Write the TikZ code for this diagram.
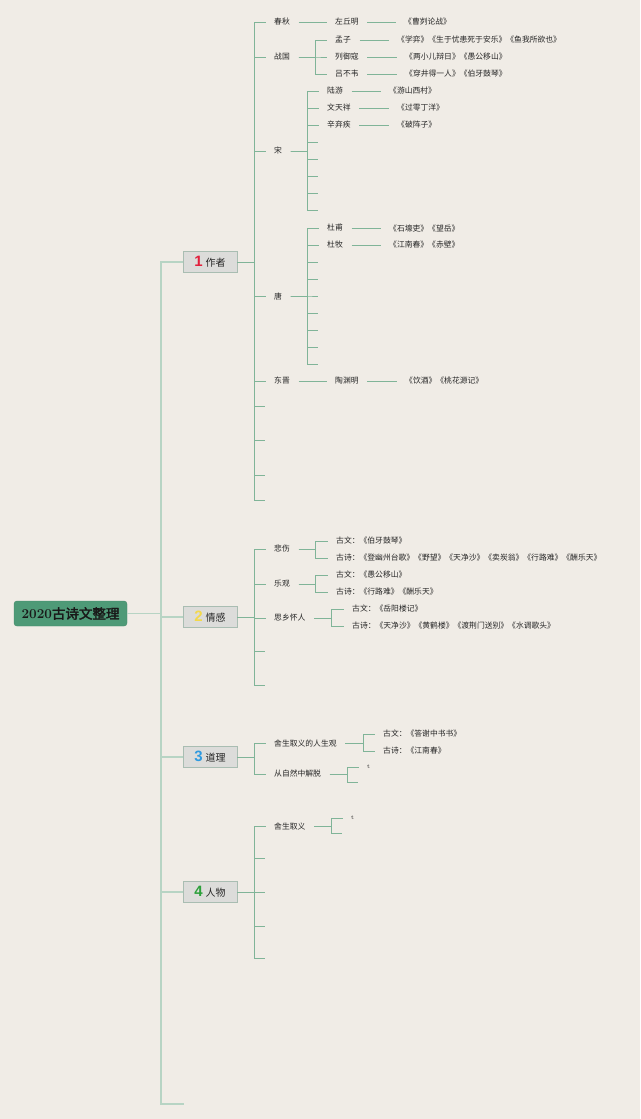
\documentclass[tikz,border=0pt]{standalone}
\usepackage{fontspec}
\usetikzlibrary{shadows}
\newfontfamily\cjk{Noto Sans CJK SC}
\newfontfamily\cjkb{Noto Sans CJK SC}[FakeBold=2.5]
\newfontfamily\numsans{Liberation Sans}
\definecolor{bgc}{HTML}{F0ECE6}
\definecolor{lnc}{HTML}{80B498}
\definecolor{spc}{HTML}{B7D4C4}
\definecolor{txtc}{HTML}{262626}
\definecolor{boxf}{HTML}{DCDCDA}
\definecolor{boxd}{HTML}{A9BDB2}
\definecolor{rootf}{HTML}{4E9A77}
\definecolor{rootd}{HTML}{448A69}
\definecolor{nA}{HTML}{E2203C}
\definecolor{nB}{HTML}{F3D84B}
\definecolor{nC}{HTML}{2E9AE0}
\definecolor{nD}{HTML}{2BA03A}
\begin{document}
\begin{tikzpicture}[x=1pt,y=-1pt,
  lbl/.style={font=\cjk\fontsize{7.8}{9}\selectfont, text=txtc, inner xsep=8.5pt, inner ysep=1pt, anchor=west},
  tinylbl/.style={font=\fontsize{6}{7}\selectfont, text=txtc, inner xsep=8.5pt, inner ysep=1pt, anchor=west},
  catbox/.style={draw=boxd, fill=boxf, line width=0.6pt, minimum width=54pt, minimum height=21pt, inner sep=0pt, font=\cjk\fontsize{10}{12}\selectfont, text=txtc, drop shadow={shadow xshift=0.8pt, shadow yshift=-0.8pt, fill=black!25, opacity=0.6}},
  rootbox/.style={draw=rootd, fill=rootf, rounded corners=3pt, minimum width=113pt, minimum height=25pt, inner sep=0pt, text=black!90},
  ln/.style={draw=lnc, line width=0.8pt},
  spine/.style={draw=spc, line width=1.4pt}]
\useasboundingbox[fill=bgc] (0,0) rectangle (640,1119);

% ---- root and categories
\node[rootbox] (root) at (70.5,613.5) {\fontsize{13.5}{15}\selectfont{\rmfamily\bfseries 2020}{\cjkb 古诗文整理}};
\node[catbox] (c1) at (210,262) {{\numsans\bfseries\fontsize{15}{15}\selectfont\color{nA}1}\hspace{3pt}作者};
\node[catbox] (c2) at (210,617) {{\numsans\bfseries\fontsize{15}{15}\selectfont\color{nB}2}\hspace{3pt}情感};
\node[catbox] (c3) at (210,757) {{\numsans\bfseries\fontsize{15}{15}\selectfont\color{nC}3}\hspace{3pt}道理};
\node[catbox] (c4) at (210,892) {{\numsans\bfseries\fontsize{15}{15}\selectfont\color{nD}4}\hspace{3pt}人物};
\coordinate (v0) at (161,0);
\coordinate (c5) at (184,1104);
\foreach \n in {c1,c2,c3,c4} \draw[spine] (root.east) -- (root.east -| v0) |- (\n.west);
\draw[spine] (root.east) -- (root.east -| v0) |- (c5);

% ---- 作者
\coordinate (v1) at (254,0);
\node[lbl] (a1) at (265.5,22) {春秋};
\node[lbl] (a2) at (265.5,57) {战国};
\node[lbl] (a3) at (265.5,151) {宋};
\node[lbl] (a4) at (265.5,296) {唐};
\node[lbl] (a5) at (265.5,381) {东晋};
\coordinate (ae1) at (265,406);
\coordinate (ae2) at (265,440);
\coordinate (ae3) at (265,475);
\coordinate (ae4) at (265,500);
\foreach \n in {a1,a2,a3,a4,a5} \draw[ln] (c1.east) -- (c1.east -| v1) |- (\n.west);
\foreach \n in {ae1,ae2,ae3,ae4} \draw[ln] (c1.east) -- (c1.east -| v1) |- (\n);

% 春秋
\node[lbl] (b11) at (326.5,22) {左丘明};
\node[lbl] (w11) at (395.5,22) {《曹刿论战》};
\draw[ln] (a1.east) -- (b11.west);
\draw[ln] (b11.east) -- (w11.west);

% 战国
\coordinate (v2) at (315,0);
\node[lbl] (b21) at (326.5,40) {孟子};
\node[lbl] (b22) at (326.5,57) {列御寇};
\node[lbl] (b23) at (326.5,74) {吕不韦};
\node[lbl] (w21) at (388.5,40) {《学弈》《生于忧患死于安乐》《鱼我所欲也》};
\node[lbl] (w22) at (396.5,57) {《两小儿辩日》《愚公移山》};
\node[lbl] (w23) at (396.5,74) {《穿井得一人》《伯牙鼓琴》};
\foreach \n in {b21,b22,b23} \draw[ln] (a2.east) -- (a2.east -| v2) |- (\n.west);
\draw[ln] (b21.east) -- (w21.west);
\draw[ln] (b22.east) -- (w22.west);
\draw[ln] (b23.east) -- (w23.west);

% 宋
\coordinate (v3) at (307,0);
\node[lbl] (b31) at (318.5,91) {陆游};
\node[lbl] (b32) at (318.5,108) {文天祥};
\node[lbl] (b33) at (318.5,125) {辛弃疾};
\node[lbl] (w31) at (380.5,91) {《游山西村》};
\node[lbl] (w32) at (388.5,108) {《过零丁洋》};
\node[lbl] (w33) at (388.5,125) {《破阵子》};
\foreach \n in {b31,b32,b33} \draw[ln] (a3.east) -- (a3.east -| v3) |- (\n.west);
\foreach \yy [count=\i] in {142,159,176,193,210} {
  \coordinate (se\i) at (318,\yy);
  \draw[ln] (a3.east) -- (a3.east -| v3) |- (se\i);
}
\draw[ln] (b31.east) -- (w31.west);
\draw[ln] (b32.east) -- (w32.west);
\draw[ln] (b33.east) -- (w33.west);

% 唐
\node[lbl] (b41) at (318.5,228) {杜甫};
\node[lbl] (b42) at (318.5,245) {杜牧};
\node[lbl] (w41) at (380.5,228) {《石壕吏》《望岳》};
\node[lbl] (w42) at (380.5,245) {《江南春》《赤壁》};
\foreach \n in {b41,b42} \draw[ln] (a4.east) -- (a4.east -| v3) |- (\n.west);
\foreach \yy [count=\i] in {262,279,296,313,330,347,364} {
  \coordinate (te\i) at (318,\yy);
  \draw[ln] (a4.east) -- (a4.east -| v3) |- (te\i);
}
\draw[ln] (b41.east) -- (w41.west);
\draw[ln] (b42.east) -- (w42.west);

% 东晋
\node[lbl] (b51) at (326.5,381) {陶渊明};
\node[lbl] (w51) at (396.5,381) {《饮酒》《桃花源记》};
\draw[ln] (a5.east) -- (b51.west);
\draw[ln] (b51.east) -- (w51.west);

% ---- 情感
\node[lbl] (e1) at (265.5,549) {悲伤};
\node[lbl] (e2) at (265.5,584) {乐观};
\node[lbl] (e3) at (265.5,618) {思乡怀人};
\coordinate (ee1) at (265,651);
\coordinate (ee2) at (265,685);
\foreach \n in {e1,e2,e3} \draw[ln] (c2.east) -- (c2.east -| v1) |- (\n.west);
\foreach \n in {ee1,ee2} \draw[ln] (c2.east) -- (c2.east -| v1) |- (\n);

\node[lbl] (f11) at (327.5,541) {古文：《伯牙鼓琴》};
\node[lbl] (f12) at (327.5,558) {古诗：《登幽州台歌》《野望》《天净沙》《卖炭翁》《行路难》《酬乐天》};
\node[lbl] (f21) at (327.5,575) {古文：《愚公移山》};
\node[lbl] (f22) at (327.5,592) {古诗：《行路难》《酬乐天》};
\coordinate (v5) at (331,0);
\node[lbl] (f31) at (343.5,609) {古文：《岳阳楼记》};
\node[lbl] (f32) at (343.5,626) {古诗：《天净沙》《黄鹤楼》《渡荆门送别》《水调歌头》};
\foreach \n in {f11,f12} \draw[ln] (e1.east) -- (e1.east -| v2) |- (\n.west);
\foreach \n in {f21,f22} \draw[ln] (e2.east) -- (e2.east -| v2) |- (\n.west);
\foreach \n in {f31,f32} \draw[ln] (e3.east) -- (e3.east -| v5) |- (\n.west);

% ---- 道理
\node[lbl] (r1) at (265.5,743) {舍生取义的人生观};
\node[lbl] (r2) at (265.5,774) {从自然中解脱};
\foreach \n in {r1,r2} \draw[ln] (c3.east) -- (c3.east -| v1) |- (\n.west);
\coordinate (v6) at (363,0);
\node[lbl] (g11) at (374.5,734) {古文：《答谢中书书》};
\node[lbl] (g12) at (374.5,751) {古诗：《江南春》};
\foreach \n in {g11,g12} \draw[ln] (r1.east) -- (r1.east -| v6) |- (\n.west);
\coordinate (v7) at (347,0);
\node[tinylbl] (t1) at (358.5,767) {t};
\coordinate (re1) at (358,782);
\draw[ln] (r2.east) -- (r2.east -| v7) |- (t1.west);
\draw[ln] (r2.east) -- (r2.east -| v7) |- (re1);

% ---- 人物
\node[lbl] (p1) at (265.5,826) {舍生取义};
\draw[ln] (c4.east) -- (c4.east -| v1) |- (p1.west);
\foreach \yy [count=\i] in {858,892,926,958} {
  \coordinate (pe\i) at (265,\yy);
  \draw[ln] (c4.east) -- (c4.east -| v1) |- (pe\i);
}
\node[tinylbl] (t2) at (342.5,818) {t};
\coordinate (qe1) at (342,833);
\draw[ln] (p1.east) -- (p1.east -| v5) |- (t2.west);
\draw[ln] (p1.east) -- (p1.east -| v5) |- (qe1);
\end{tikzpicture}
\end{document}
